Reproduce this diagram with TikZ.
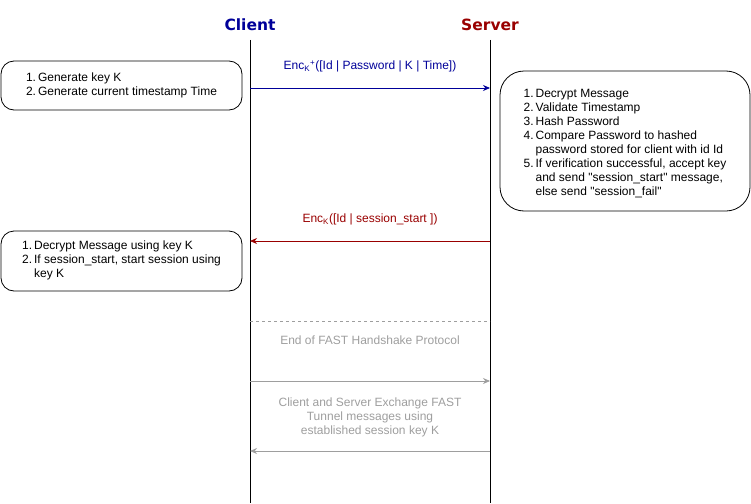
\documentclass[tikz,border=0pt]{standalone}
\usepackage{fontspec}
\setmainfont{Liberation Sans}
\newfontfamily\titlefont{DejaVu Sans}
\usetikzlibrary{positioning, arrows.meta}
\definecolor{clientblue}{HTML}{000099}
\definecolor{serverred}{HTML}{990000}
\definecolor{fastgray}{HTML}{9E9E9E}

\begin{document}
\begin{tikzpicture}[x=1pt, y=-1pt, font=\fontsize{12}{14}\selectfont,
    note/.style={draw, line width=0.8pt, rounded corners=13pt, align=left, inner sep=0pt},
    lifeline/.style={draw, line width=0.8pt},
    msg/.style={-{Stealth[length=7pt, width=6pt]}, line width=0.8pt},
    title/.style={font=\titlefont\bfseries\fontsize{15.5}{18}\selectfont}]

    \useasboundingbox (0,0) rectangle (751,503);

    % Define the participants (lifelines)
    \node[title, text=clientblue] (client) at (250,25) {Client};
    \node[title, text=serverred] (server) at (490,25) {Server};
    \coordinate (cbot) at (250,503);
    \coordinate (sbot) at (490,503);
    \path[lifeline] (250,40) -- (cbot);
    \path[lifeline] (490,40) -- (sbot);

    % Define the points where messages meet the lifelines
    \coordinate (c1) at (250,88);  \coordinate (s1) at (490,88);
    \coordinate (c2) at (250,241); \coordinate (s2) at (490,241);
    \coordinate (c3) at (250,321); \coordinate (s3) at (490,321);
    \coordinate (c4) at (250,381); \coordinate (s4) at (490,381);
    \coordinate (c5) at (250,451); \coordinate (s5) at (490,451);

    % Define the notes beside the lifelines
    \node[note, minimum width=241, minimum height=49] (gen) at (121.5,85.5) {
        \begin{tabular}{@{}r@{\,}l@{}}
        1. & Generate key K\\
        2. & Generate current timestamp Time
        \end{tabular}};
    \node[note, rounded corners=24pt, minimum width=250, minimum height=140] (verify) at (625,141) {
        \begin{tabular}{@{}r@{\,}l@{}}
        \rule{0pt}{16pt}1. & Decrypt Message\\
        2. & Validate Timestamp\\
        3. & Hash Password\\
        4. & Compare Password to hashed\\
           & password stored for client with id Id\\
        5. & If verification successful, accept key\\
           & and send \textquotedbl session\_start\textquotedbl{} message,\\
           & else send \textquotedbl session\_fail\textquotedbl
        \end{tabular}};
    \node[note, minimum width=241, minimum height=60] (start) at (121.5,261) {
        \begin{tabular}{@{}r@{\,}l@{}}
        1. & Decrypt Message using key K\\
        2. & If session\_start, start session using\\
           & key K
        \end{tabular}};

    % Define the messages
    \draw[msg, draw=clientblue] (c1) -- node[above=12pt, text=clientblue]
        {Enc\textsubscript{K}\textsuperscript{+}([Id | Password | K | Time])} (s1);
    \draw[msg, draw=serverred] (s2) -- node[above=12pt, text=serverred]
        {Enc\textsubscript{K}([Id | session\_start ])} (c2);
    \draw[draw=fastgray, dashed] (c3) -- node[below=11pt, text=fastgray]
        {End of FAST Handshake Protocol} (s3);
    \draw[msg, draw=fastgray] (c4) -- (s4);
    \draw[msg, draw=fastgray] (s5) -- (c5);
    \node[text=fastgray, align=center] (tunnel) at (370,417) {Client and Server Exchange FAST\\
        Tunnel messages using\\established session key K};
\end{tikzpicture}
\end{document}
